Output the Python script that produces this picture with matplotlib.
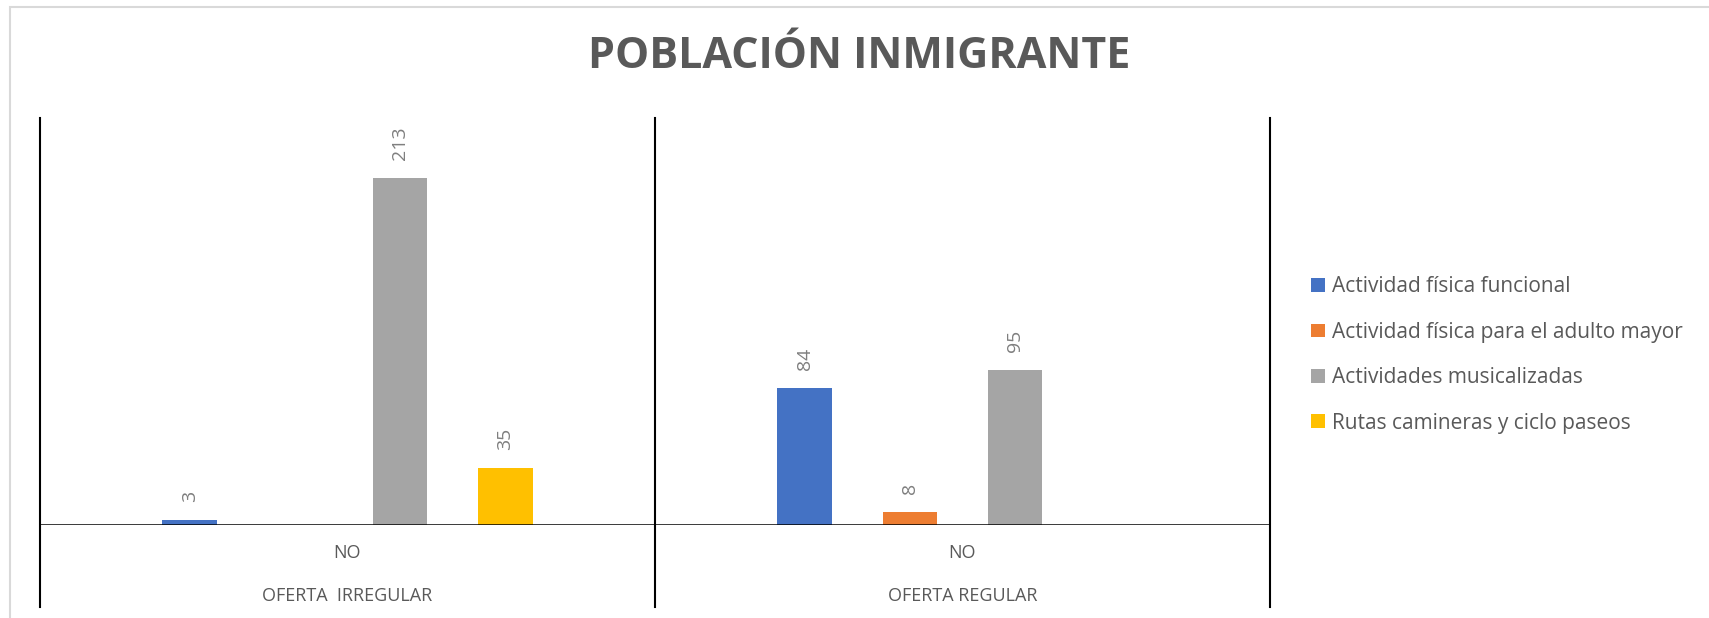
import numpy as np
import matplotlib.pyplot as plt
from matplotlib.patches import Rectangle, Patch

plt.rcParams['font.family'] = ['Open Sans', 'DejaVu Sans']

title = "POBLACIÓN INMIGRANTE"
groups = ["OFERTA  IRREGULAR", "OFERTA REGULAR"]
sub_labels = ["NO", "NO"]
series = [
    "Actividad física funcional",
    "Actividad física para el adulto mayor",
    "Actividades musicalizadas",
    "Rutas camineras y ciclo paseos",
]
colors = ["#4472C4", "#ED7D31", "#A5A5A5", "#FFC000"]
values = [
    [3, 84],            # Actividad física funcional
    [np.nan, 8],        # Actividad física para el adulto mayor
    [213, 95],          # Actividades musicalizadas
    [35, np.nan],       # Rutas camineras y ciclo paseos
]

W, H = 1709, 618
fig = plt.figure(figsize=(W / 100, H / 100), dpi=100)

# chart area border (cropped screenshot)
fig.add_artist(Rectangle((10 / W, -0.1), 2, 1 - 7 / H + 0.1, transform=fig.transFigure,
                         fill=False, edgecolor="#d9d9d9", lw=1.5))

left, right, bottom, top = 40, 1270, 525, 118
ax = fig.add_axes([left / W, 1 - bottom / H, (right - left) / W, (bottom - top) / H])

x = np.arange(len(groups))
step = 0.171
width = 0.089
for i, (name, vals, c) in enumerate(zip(series, values, colors)):
    pos = x + (i - 1.5) * step
    v = np.array(vals, dtype=float)
    ax.bar(pos, v, width=width, color=c, label=name, zorder=2)
    for p, val in zip(pos, v):
        if not np.isnan(val):
            ax.annotate(f"{int(val)}", (p, val), xytext=(0, 13), textcoords="offset points",
                        rotation=90, ha="center", va="bottom", fontsize=14, color="#7f7f7f")

ax.set_xlim(-0.5, 1.5)
ax.set_ylim(0, 250)
for s in ax.spines.values():
    s.set_visible(False)
ax.set_xticks([])
ax.set_yticks([])
ax.axhline(0, color="black", lw=1.8, zorder=3)

tr = ax.get_xaxis_transform()
for xv in [-0.5, 0.5, 1.5]:
    ax.plot([xv, xv], [1.0, -0.2015], transform=tr, color="black", lw=1.5, clip_on=False)
for xi, sub, grp in zip(x, sub_labels, groups):
    ax.text(xi, -0.069, sub, transform=tr, ha="center", va="center", fontsize=13, color="#595959")
    ax.text(xi, -0.174, grp, transform=tr, ha="center", va="center", fontsize=13, color="#595959")

fig.text(859 / W, 1 - 57 / H, title, ha="center", va="center", fontsize=31,
         fontweight="bold", color="#595959")

handles = [Patch(facecolor=c, label=n) for n, c in zip(series, colors)]
fig.legend(handles=handles, loc="center left", bbox_to_anchor=(1303 / W, 1 - 355 / H),
           frameon=False, fontsize=15, labelcolor="#595959", handlelength=0.65,
           handleheight=0.65, handletextpad=0.35, labelspacing=1.17, borderaxespad=0)

fig.savefig("out.png", dpi=100)
